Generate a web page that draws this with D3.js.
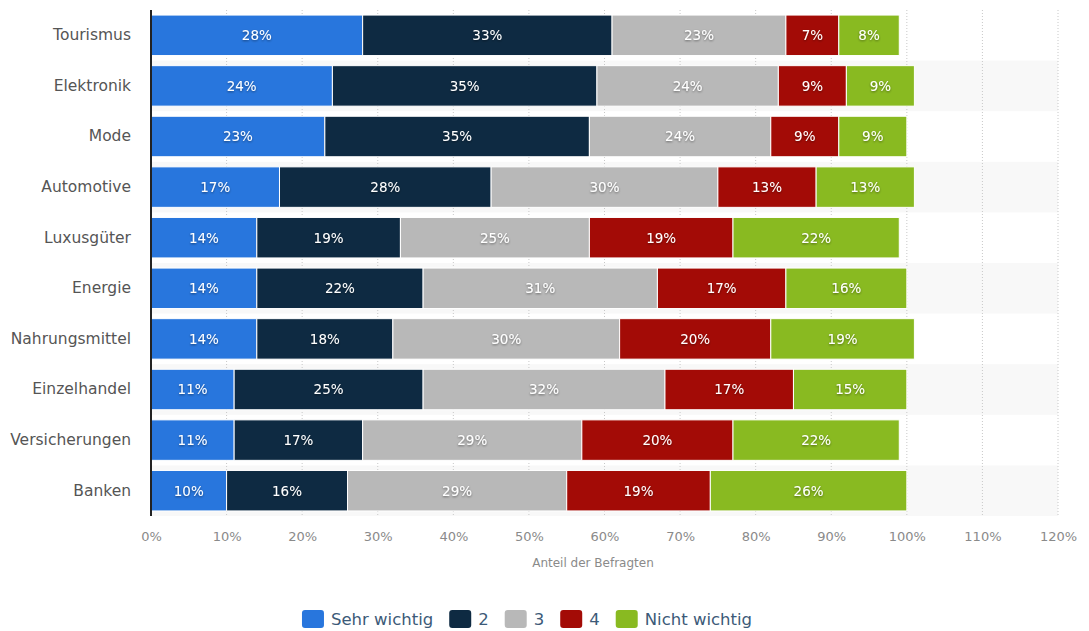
<!DOCTYPE html>
<html>
<head>
<meta charset="utf-8">
<script src="https://cdn.jsdelivr.net/npm/d3@7"></script>
<style>
  body { margin: 0; background: #fff; }
  svg text { font-family: "DejaVu Sans", sans-serif; }
  .axis text { fill: #8a8a8a; font-size: 13px; }
  .cat text { fill: #555; font-size: 15.5px; }
</style>
</head>
<body>
<script>
// Data
var categories = ["Tourismus", "Elektronik", "Mode", "Automotive", "Luxusgüter",
                  "Energie", "Nahrungsmittel", "Einzelhandel", "Versicherungen", "Banken"];
var seriesNames = ["Sehr wichtig", "2", "3", "4", "Nicht wichtig"];
var sehrWichtig  = [28, 24, 23, 17, 14, 14, 14, 11, 11, 10];
var stufe2       = [33, 35, 35, 28, 19, 22, 18, 25, 17, 16];
var stufe3       = [23, 24, 24, 30, 25, 31, 30, 32, 29, 29];
var stufe4       = [7, 9, 9, 13, 19, 17, 20, 17, 20, 19];
var nichtWichtig = [8, 9, 9, 13, 22, 16, 19, 15, 22, 26];
var xTicks = [0, 10, 20, 30, 40, 50, 60, 70, 80, 90, 100, 110, 120];

var colors = ["#2876dd", "#0e2a42", "#b8b8b8", "#a30b06", "#89ba21"];

var width = 1089, height = 631;
var margin = {top: 10, left: 151, right: 31, bottom: 115};

var svg = d3.select("body").append("svg")
    .attr("width", width)
    .attr("height", height);

// drop shadow for labels
var defs = svg.append("defs");
var f = defs.append("filter").attr("id", "shadow")
    .attr("x", "-20%").attr("y", "-40%").attr("width", "140%").attr("height", "180%");
f.append("feDropShadow").attr("dx", 0).attr("dy", 1).attr("stdDeviation", 1)
    .attr("flood-color", "#000").attr("flood-opacity", 0.45);

var x = d3.scaleLinear()
    .domain([0, 120])
    .range([margin.left, width - margin.right]);

var y = d3.scaleBand()
    .domain(categories)
    .range([margin.top, height - margin.bottom])
    .paddingInner(0.2)
    .paddingOuter(0.1);

var step = y.step();

// table for stacking
var table = categories.map(function(c, i) {
  return {cat: c, "Sehr wichtig": sehrWichtig[i], "2": stufe2[i], "3": stufe3[i],
          "4": stufe4[i], "Nicht wichtig": nichtWichtig[i]};
});
var stacked = d3.stack().keys(seriesNames)(table);

// alternating row stripes
svg.append("g").selectAll("rect")
  .data(categories.filter(function(d, i) { return i % 2 === 1; }))
  .enter().append("rect")
    .attr("x", x(0))
    .attr("y", function(d) { return y(d) - step * 0.1; })
    .attr("width", x(120) - x(0))
    .attr("height", step)
    .attr("fill", "#f8f8f8");

// vertical dotted grid
svg.append("g").selectAll("line")
  .data(xTicks.slice(1))
  .enter().append("line")
    .attr("x1", function(d) { return x(d); })
    .attr("x2", function(d) { return x(d); })
    .attr("y1", margin.top)
    .attr("y2", height - margin.bottom)
    .attr("stroke", "#c8c8c8")
    .attr("stroke-width", 1)
    .attr("stroke-dasharray", "1,2");

// bars
var layers = svg.append("g").selectAll("g")
  .data(stacked)
  .enter().append("g")
    .attr("fill", function(d, i) { return colors[i]; });

layers.selectAll("rect")
  .data(function(d) { return d; })
  .enter().append("rect")
    .attr("x", function(d) { return x(d[0]); })
    .attr("y", function(d) { return y(d.data.cat); })
    .attr("width", function(d) { return x(d[1]) - x(d[0]); })
    .attr("height", y.bandwidth())
    .attr("stroke", "#fff")
    .attr("stroke-width", 1);

layers.selectAll("text")
  .data(function(d) { return d; })
  .enter().append("text")
    .attr("x", function(d) { return (x(d[0]) + x(d[1])) / 2; })
    .attr("y", function(d) { return y(d.data.cat) + y.bandwidth() / 2; })
    .attr("dy", "0.36em")
    .attr("text-anchor", "middle")
    .attr("fill", "#fff")
    .attr("filter", "url(#shadow)")
    .style("font-size", "13.5px")
    .text(function(d) { return (d[1] - d[0]) + "%"; });

// x axis
svg.append("g")
    .attr("class", "axis")
    .attr("transform", "translate(0," + (height - margin.bottom + 13) + ")")
    .call(d3.axisBottom(x).tickValues(xTicks).tickSize(0)
      .tickFormat(function(d) { return d + "%"; }))
    .call(function(g) { g.select(".domain").remove(); });

// y axis
svg.append("g")
    .attr("class", "cat")
    .attr("transform", "translate(" + x(0) + ",0)")
    .call(d3.axisLeft(y).tickSize(0).tickPadding(20))
    .call(function(g) {
      g.select(".domain").attr("stroke", "#222").attr("stroke-width", 2)
        .attr("d", "M0," + margin.top + "V" + (height - margin.bottom));
    });

svg.append("text")
    .attr("x", 593)
    .attr("y", 563)
    .attr("dy", "0.36em")
    .attr("text-anchor", "middle")
    .attr("fill", "#8a8a8a")
    .style("font-size", "12px")
    .text("Anteil der Befragten");

// legend
var legend = svg.append("g");
var items = legend.selectAll("g")
  .data(seriesNames)
  .enter().append("g");

items.append("rect")
    .attr("width", 22).attr("height", 18)
    .attr("rx", 3)
    .attr("fill", function(d, i) { return colors[i]; });

items.append("text")
    .attr("x", 29)
    .attr("y", 9)
    .attr("dy", "0.36em")
    .attr("fill", "#3c5a78")
    .style("font-size", "16.5px")
    .text(function(d) { return d; });

var pos = 0;
items.each(function() {
  var g = d3.select(this);
  g.attr("transform", "translate(" + pos + ",0)");
  pos += 29 + g.select("text").node().getComputedTextLength() + 16;
});
pos -= 16;
legend.attr("transform", "translate(" + (527 - pos / 2) + ",610)");
</script>
</body>
</html>
